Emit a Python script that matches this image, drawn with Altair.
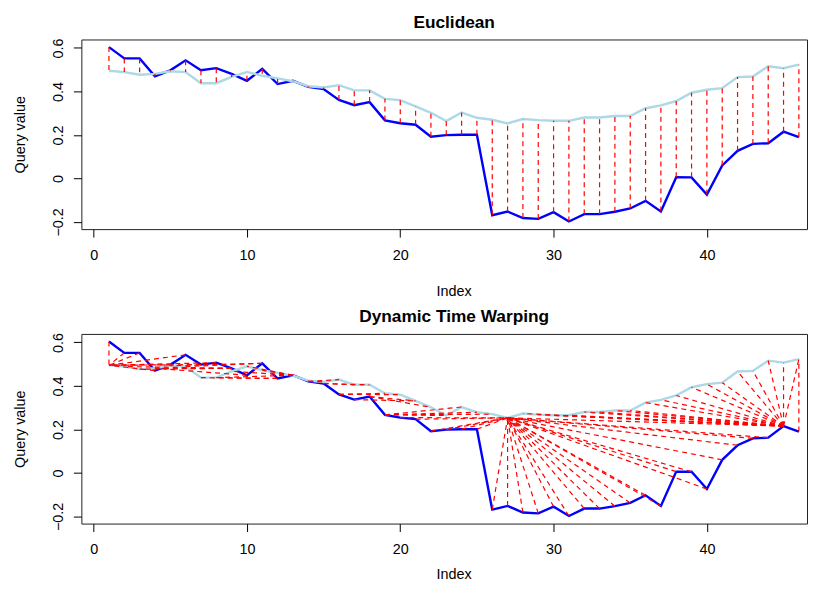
import altair as alt
import pandas as pd

index = list(range(1, 47))
query = [0.604, 0.552, 0.552, 0.470, 0.497, 0.543, 0.498, 0.507, 0.481, 0.449,
         0.504, 0.434, 0.449, 0.421, 0.411, 0.361, 0.337, 0.351, 0.267, 0.254,
         0.247, 0.192, 0.199, 0.201, 0.201, -0.169, -0.152, -0.182, -0.186, -0.155,
         -0.198, -0.164, -0.164, -0.153, -0.138, -0.103, -0.152, 0.006, 0.005, -0.074,
         0.060, 0.127, 0.159, 0.162, 0.215, 0.190]
reference = [0.495, 0.489, 0.477, 0.481, 0.493, 0.489, 0.438, 0.438, 0.467, 0.490,
             0.472, 0.460, 0.447, 0.424, 0.418, 0.429, 0.405, 0.405, 0.366, 0.360,
             0.331, 0.302, 0.264, 0.303, 0.279, 0.270, 0.253, 0.273, 0.268, 0.265,
             0.265, 0.280, 0.280, 0.287, 0.287, 0.323, 0.336, 0.356, 0.394, 0.408,
             0.415, 0.466, 0.469, 0.516, 0.507, 0.523]

# DTW alignment: query index -> reference index (read from the warping path)
dtw_query_idx = [1, 2, 3, 4, 5, 6, 7, 8, 9, 9, 9, 10, 11, 11, 12, 12, 13, 13, 13, 13,
                 13, 13, 14, 14, 14, 15, 15, 16, 16, 17, 18, 18, 19, 19, 19, 19, 20,
                 21, 22, 23, 24, 25, 26, 27, 28, 29, 30, 31, 32, 33, 34, 35, 36, 37, 38,
                 39, 40, 41, 42, 43, 44, 45,
                 45, 45, 45, 45, 45, 45, 45, 45, 45, 45, 45, 45, 45, 45, 45, 45, 45, 45, 45,
                 46]
dtw_ref_idx = [1, 1, 1, 1, 1, 1, 1, 1, 2, 3, 4, 4, 5, 6, 7, 8, 8, 9, 10, 11,
               12, 13, 14, 15, 16, 17, 18, 19, 20, 21, 21, 22, 23, 24, 25, 26, 27,
               27, 27, 27, 27, 27, 27, 27, 27, 27, 27, 27, 27, 27, 27, 27, 27, 27, 27,
               27, 27, 27, 27, 27, 27, 27,
               28, 29, 30, 31, 32, 33, 34, 35, 36, 37, 38, 39, 40, 41, 42, 43, 44, 45, 46,
               46]

x_ticks = [0, 10, 20, 30, 40]
y_ticks = [-0.2, 0, 0.2, 0.4, 0.6]

FONT = "Liberation Sans"
FS = 14.4
W, H = 727, 190
XDOM = [-0.8, 46.53]
YDOM = [-0.233, 0.639]

q_df = pd.DataFrame({"Index": index, "value": query})
r_df = pd.DataFrame({"Index": index, "value": reference})
euc_df = pd.DataFrame({"x": index, "y": query, "x2": index, "y2": reference})
dtw_df = pd.DataFrame({"x": dtw_query_idx,
                       "y": [query[i - 1] for i in dtw_query_idx],
                       "x2": dtw_ref_idx,
                       "y2": [reference[j - 1] for j in dtw_ref_idx]})


def panel(seg_df, title, index_title_y):
    xs = alt.Scale(domain=XDOM, nice=False, zero=False)
    ys = alt.Scale(domain=YDOM, nice=False, zero=False)
    xax = alt.Axis(values=x_ticks, title="Index", tickSize=8,
                   labelPadding=11, labelFontSize=FS, titleFontSize=FS,
                   titleFontWeight="normal", titleX=373, titleY=index_title_y,
                   titleBaseline="middle", titleAlign="center")
    yax = alt.Axis(values=y_ticks, title="Query value", tickSize=8,
                   labelPadding=11, labelFontSize=FS, labelAngle=270,
                   labelAlign="center", labelBaseline="alphabetic",
                   labelExpr="datum.value == 0 ? '0' : datum.label",
                   labelOverlap=False,
                   titleFontSize=FS, titleFontWeight="normal", titleAngle=270,
                   titleX=-61, titleY=H / 2, titleAlign="center",
                   titleBaseline="middle")
    ql = alt.Chart(q_df).mark_line(color="#0000FF", strokeWidth=2.4, clip=True).encode(
        x=alt.X("Index:Q", scale=xs, axis=xax),
        y=alt.Y("value:Q", scale=ys, axis=yax))
    rl = alt.Chart(r_df).mark_line(color="#ADD8E6", strokeWidth=2.4, clip=True).encode(
        x=alt.X("Index:Q", scale=xs), y=alt.Y("value:Q", scale=ys))
    sg = alt.Chart(seg_df).mark_rule(color="#FF0000", strokeDash=[5, 4],
                                      strokeWidth=1.2, clip=True).encode(
        x=alt.X("x:Q", scale=xs), y=alt.Y("y:Q", scale=ys), x2="x2:Q", y2="y2:Q")
    return alt.layer(ql, rl, sg).properties(
        width=W, height=H,
        title=alt.TitleParams(title, fontSize=17.3, fontWeight="bold", font=FONT,
                              anchor="middle", dx=10, offset=7, color="black"))


chart = alt.vconcat(panel(euc_df, "Euclidean", 63),
                    panel(dtw_df, "Dynamic Time Warping", 51),
                    spacing=105, bounds="flush").properties(
    padding={"left": 3.5, "top": 4, "right": 0, "bottom": 0}
).configure_axis(
    labelFont=FONT, titleFont=FONT, grid=False, domain=False,
    labelColor="black", titleColor="black", tickColor="black"
).configure_view(stroke="#222222", strokeWidth=1)

chart.save("out.html", embed_options={"renderer": "svg", "actions": False})
